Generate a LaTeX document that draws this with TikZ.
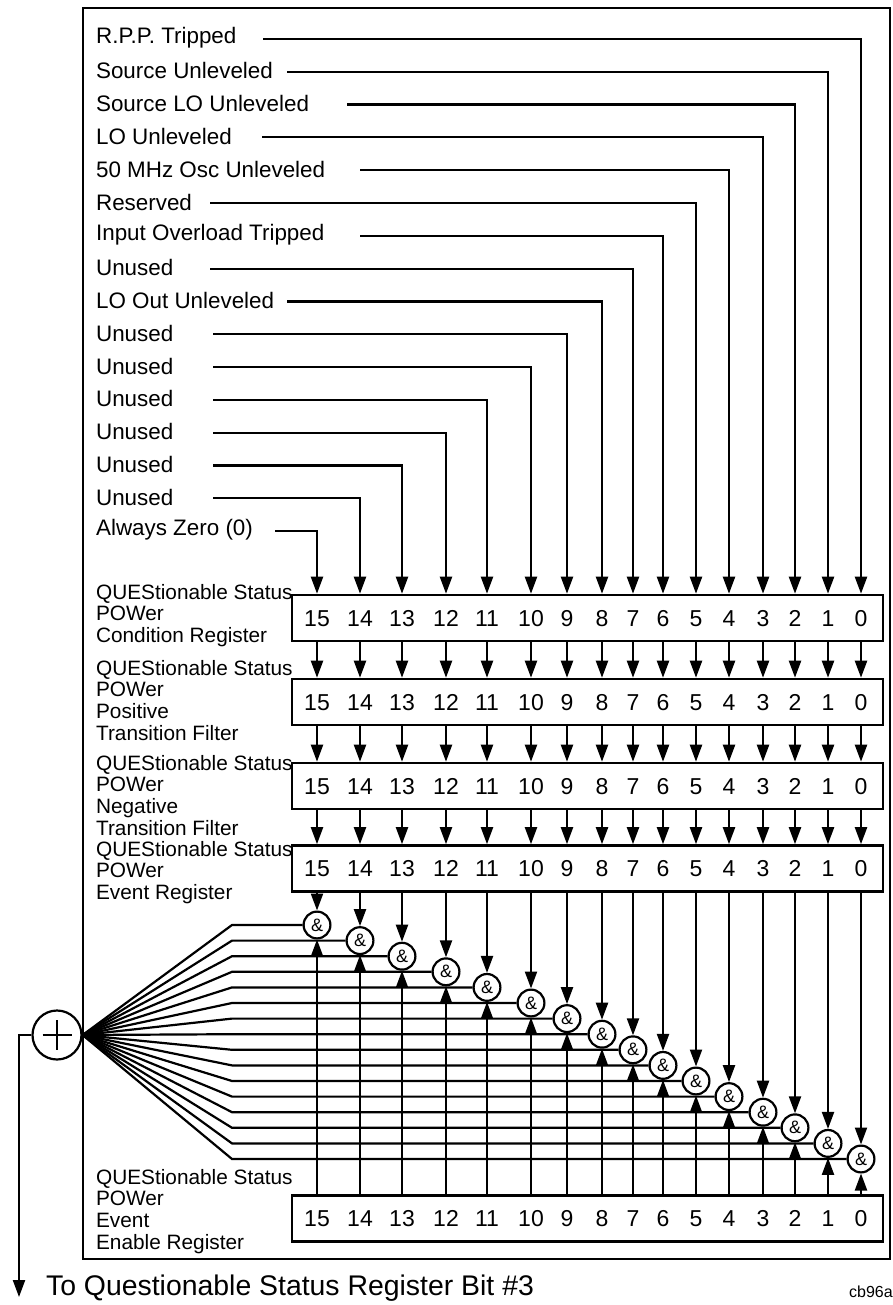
\documentclass[tikz,border=0pt]{standalone}
\usepackage{fontspec}
\setmainfont{Liberation Sans}
\usetikzlibrary{arrows.meta}

\tikzset{
  reg/.style={draw, line width=1.3pt, minimum width=295.5pt, minimum height=23pt, inner sep=0pt},
  bitnum/.style={inner sep=0pt, text height=8.2pt, text depth=0pt, font=\fontsize{11.5}{12}\selectfont},
  gate/.style={draw, circle, line width=1.1pt, minimum size=13.4pt, inner sep=0pt, font=\fontsize{9}{9}\selectfont},
  sumnode/.style={draw, circle, line width=1.1pt, minimum size=24.5pt, inner sep=0pt},
  srclbl/.style={anchor=west, inner sep=0pt, font=\fontsize{11.2}{12}\selectfont},
  reglbl/.style={anchor=north west, inner sep=0pt, align=left, font=\fontsize{10.4}{10.85}\selectfont},
}

\begin{document}
\begin{tikzpicture}[x=0.5pt, y=-0.5pt, line width=1.1pt, >={Triangle[length=8.5pt,width=6pt]}]
  \useasboundingbox (0,0) rectangle (893,1305);
  \draw[line width=1.4pt] (83,8) rectangle (890,1259);

  \foreach \b/\x in {15/317,14/360,13/402,12/446,11/487,10/531,9/567,8/602,7/633,6/663,5/696,4/729,3/763,2/795,1/828,0/861}
    \coordinate (c\b) at (\x,0);

  \node[reg] (cond) at (587.5,618) {};
  \node[reg] (ptr) at (587.5,702) {};
  \node[reg] (ntr) at (587.5,786) {};
  \node[reg] (event) at (587.5,868.5) {};
  \node[reg] (enable) at (587.5,1218.5) {};
  \foreach \r in {cond,ptr,ntr,event,enable}
    \foreach \b in {15,14,...,0}
      \node[bitnum] (\r-\b) at (\r.center -| c\b) {\b};

  \node[reglbl] (condlbl) at (95,583) {QUEStionable Status\\POWer\\Condition Register};
  \node[reglbl] (ptrlbl) at (95,659) {QUEStionable Status\\POWer\\Positive\\Transition Filter};
  \node[reglbl] (ntrlbl) at (95,754) {QUEStionable Status\\POWer\\Negative\\Transition Filter};
  \node[reglbl] (eventlbl) at (95,840) {QUEStionable Status\\POWer\\Event Register};
  \node[reglbl] (enablelbl) at (95,1168) {QUEStionable Status\\POWer\\Event\\Enable Register};

  \foreach \b/\t/\s [count=\k from 0] in {0/R.P.P. Tripped/263, 1/Source Unleveled/287, 2/Source LO Unleveled/347,
      3/LO Unleveled/262, 4/50 MHz Osc Unleveled/360, 5/Reserved/210, 6/Input Overload Tripped/360,
      7/Unused/210, 8/LO Out Unleveled/287, 9/Unused/213, 10/Unused/213, 11/Unused/213,
      12/Unused/213, 13/Unused/213, 14/Unused/213, 15/Always Zero (0)/275} {
    \pgfmathsetmacro\ly{39+32.8*\k}
    \node[srclbl] (src\b) at (95,\ly-1) {\t};
    \coordinate (s\b) at (\s,\ly);
    \draw[->] (s\b) -| (cond.north -| c\b);
  }

  \foreach \b in {15,14,...,0} {
    \draw[->] (cond.south -| c\b) -- (ptr.north -| c\b);
    \draw[->] (ptr.south -| c\b) -- (ntr.north -| c\b);
    \draw[->] (ntr.south -| c\b) -- (event.north -| c\b);
  }

  \node[sumnode] (or) at (57,1035) {};
  \draw (or.center) +(-14.5,0) -- +(14.5,0) (or.center) +(0,-15) -- +(0,15);

  \foreach \b [count=\k from 0] in {15,14,...,0} {
    \pgfmathsetmacro\gy{925+15.6*\k}
    \node[gate] (g\b) at (c\b |- 0,\gy) {\&};
    \coordinate (f\b) at (232,\gy);
    \draw[->] (event.south -| g\b) -- (g\b.north);
    \draw[->] (enable.north -| g\b) -- (g\b.south);
    \draw (g\b.west) -- (f\b) -- (or.east);
  }

  \coordinate (out) at (19,1297);
  \draw[->] (or.west) -| (out);
  \node[anchor=west, inner sep=0pt, font=\fontsize{14.2}{15}\selectfont] (dest) at (45,1288) {To Questionable Status Register Bit \#3};
  \node[anchor=west, inner sep=0pt, font=\fontsize{8}{8}\selectfont] (figid) at (848,1292) {cb96a};
\end{tikzpicture}
\end{document}
